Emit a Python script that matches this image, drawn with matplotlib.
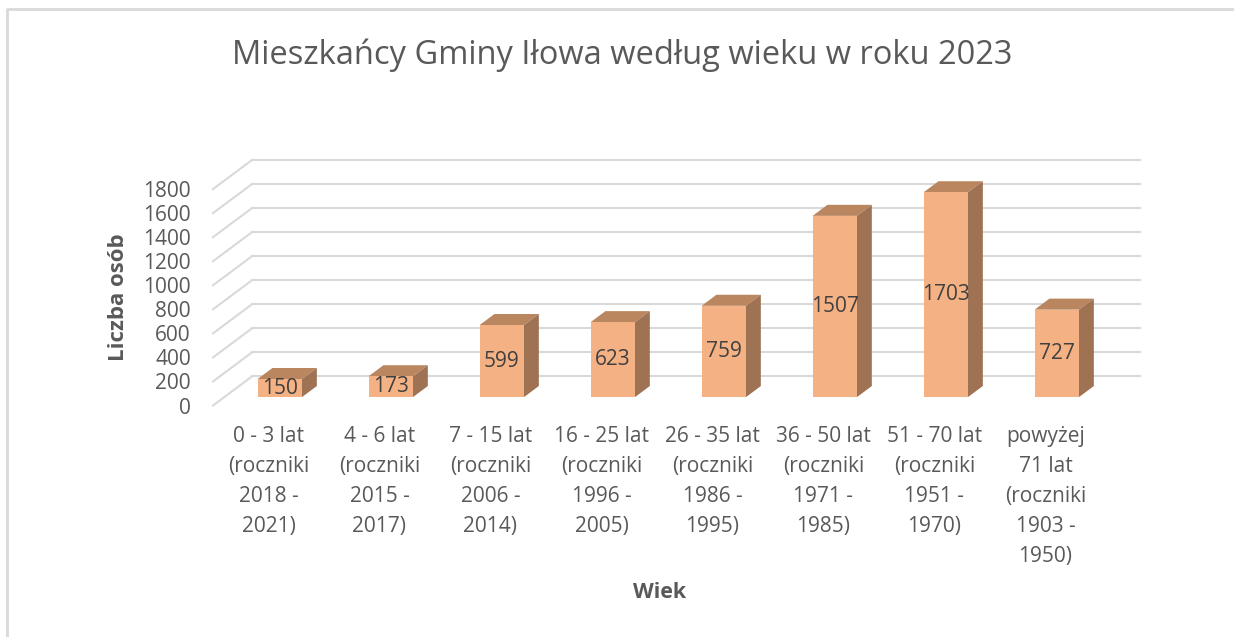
import matplotlib.pyplot as plt
import numpy as np

plt.rcParams['font.family'] = ['Open Sans', 'DejaVu Sans']

# Dane
kategorie = ['0 - 3 lat\n(roczniki\n2018 -\n2021)',
             '4 - 6 lat\n(roczniki\n2015 -\n2017)',
             '7 - 15 lat\n(roczniki\n2006 -\n2014)',
             '16 - 25 lat\n(roczniki\n1996 -\n2005)',
             '26 - 35 lat\n(roczniki\n1986 -\n1995)',
             '36 - 50 lat\n(roczniki\n1971 -\n1985)',
             '51 - 70 lat\n(roczniki\n1951 -\n1970)',
             'powyżej\n71 lat\n(roczniki\n1903 -\n1950)']
liczba_osob = [150, 173, 599, 623, 759, 1507, 1703, 727]
y_ticks = [0, 200, 400, 600, 800, 1000, 1200, 1400, 1600, 1800]

# Efekt 3D (rzut ukośny): głębokość w jednostkach osi
DX = 0.3514      # przesunięcie w poziomie (kategorie)
DY = 241.7       # przesunięcie w pionie (wartości)
d0, d1 = 0.29, 0.67   # zakres głębokości słupka
szer = 0.4

kolor_front = '#F4B183'
kolor_gora = '#BA8660'
kolor_bok = '#9E7252'
kolor_siatki = '#D9D9D9'
kolor_tekstu = '#595959'

W, H = 1234, 637
fig = plt.figure(figsize=(W / 100, H / 100), dpi=100)
ax = fig.add_axes([213 / W, (H - 405.5) / H, 927 / W, 245.5 / H])
n = len(kategorie)
ax.set_xlim(0, n + DX)
ax.set_ylim(0, y_ticks[-1] + DY)

# Siatka: tylna ściana + skośne linie po lewej
for v in y_ticks:
    ax.plot([DX, n + DX], [v + DY, v + DY], color=kolor_siatki, lw=1.5, zorder=1, clip_on=False)
    ax.plot([0, DX], [v, v + DY], color=kolor_siatki, lw=1.5, zorder=1, clip_on=False)

# Słupki
for i, v in enumerate(liczba_osob):
    x0 = i + 0.5 - szer / 2 + d0 * DX
    x1 = x0 + szer
    y0 = d0 * DY
    ddx = (d1 - d0) * DX
    ddy = (d1 - d0) * DY
    # góra
    ax.fill([x0, x1, x1 + ddx, x0 + ddx], [y0 + v, y0 + v, y0 + v + ddy, y0 + v + ddy],
            color=kolor_gora, lw=0, zorder=3, clip_on=False)
    # bok
    ax.fill([x1, x1 + ddx, x1 + ddx, x1], [y0, y0 + ddy, y0 + v + ddy, y0 + v],
            color=kolor_bok, lw=0, zorder=3, clip_on=False)
    # przód
    ax.fill([x0, x1, x1, x0], [y0, y0, y0 + v, y0 + v],
            color=kolor_front, lw=0, zorder=4, clip_on=False)
    ax.text((x0 + x1) / 2, y0 + v / 2, str(v), ha='center', va='center',
            fontsize=15, color='#404040', zorder=5)

ax.set_yticks(y_ticks)
ax.set_yticklabels([str(t) for t in y_ticks], fontsize=15, color=kolor_tekstu)
ax.set_xticks(np.arange(n) + 0.5)
ax.set_xticklabels(kategorie, fontsize=15, color=kolor_tekstu, linespacing=1.56)
ax.tick_params(axis='y', length=0, pad=16)
ax.tick_params(axis='x', length=0, pad=15)
for s in ax.spines.values():
    s.set_visible(False)
ax.patch.set_alpha(0)

fig.text(622 / W, 1 - 55 / H, 'Mieszkańcy Gminy Iłowa według wieku w roku 2023',
         ha='center', va='center', fontsize=23.5, color=kolor_tekstu)
fig.text(118 / W, 1 - 297 / H, 'Liczba osób', rotation=90, ha='center', va='center',
         fontsize=16, fontweight='bold', color=kolor_tekstu)
fig.text(660 / W, 1 - 593 / H, 'Wiek', ha='center', va='center',
         fontsize=15.5, fontweight='bold', color=kolor_tekstu)

# Ramka wykresu
fig.add_artist(plt.Line2D([7 / W, 7 / W, 1], [0, 1 - 8.5 / H, 1 - 8.5 / H],
                          transform=fig.transFigure, color=kolor_siatki, lw=2))

plt.savefig('out.png', dpi=100)
